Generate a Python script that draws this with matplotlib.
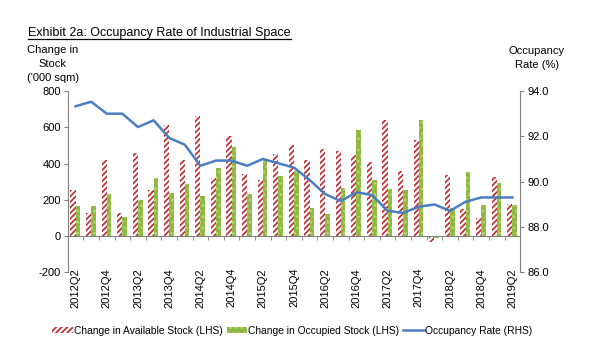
import matplotlib
matplotlib.use("Agg")
import matplotlib.pyplot as plt
from matplotlib.lines import Line2D
from matplotlib.patches import Patch
import numpy as np

plt.rcParams['font.family'] = ['Liberation Sans', 'DejaVu Sans']
plt.rcParams['hatch.linewidth'] = 1.2
plt.rcParams['axes.unicode_minus'] = False

quarters = ['2012Q2', '2012Q3', '2012Q4', '2013Q1', '2013Q2', '2013Q3', '2013Q4', '2014Q1',
            '2014Q2', '2014Q3', '2014Q4', '2015Q1', '2015Q2', '2015Q3', '2015Q4', '2016Q1',
            '2016Q2', '2016Q3', '2016Q4', '2017Q1', '2017Q2', '2017Q3', '2017Q4', '2018Q1',
            '2018Q2', '2018Q3', '2018Q4', '2019Q1', '2019Q2']
available = [256, 129, 418, 129, 458, 256, 611, 421, 660, 322, 550, 344, 307, 451, 504,
             418, 482, 471, 445, 408, 638, 359, 528, -33, 335, 147, 99, 326, 178]
occupied = [166, 166, 230, 105, 200, 320, 237, 285, 221, 373, 491, 230, 421, 333, 357,
            153, 120, 267, 585, 309, 261, 252, 642, -10, 156, 353, 169, 293, 169]
occ_rate = [93.33, 93.53, 93.0, 93.0, 92.41, 92.71, 91.93, 91.63, 90.70, 90.93, 90.93,
            90.70, 91.0, 90.81, 90.62, 90.07, 89.45, 89.14, 89.53, 89.41, 88.71, 88.62,
            88.89, 88.99, 88.71, 89.11, 89.30, 89.30, 89.30]

red = '#C0272D'
green = '#8DB940'
blue = '#4A7EC2'
grey = '#808080'

fig = plt.figure(figsize=(6, 3.6), dpi=100)
ax = fig.add_axes([0.113, 0.244, 0.754, 0.503])
ax2 = ax.twinx()

x = np.arange(len(quarters))
ax.bar(x - 0.165, available, width=0.33, facecolor='white', edgecolor=red,
       hatch='//////', linewidth=0)
ax.bar(x + 0.15, occupied, width=0.3, facecolor=green, edgecolor='#B4D46E',
       hatch='...', linewidth=0)
ax2.plot(x, occ_rate, color=blue, lw=1.8)

ax.set_xlim(-0.5, len(quarters) - 0.5)
ax.set_ylim(-200, 800)
ax.set_yticks(range(-200, 801, 200))
ax2.set_ylim(86, 94)
ax2.set_yticks(np.arange(86, 94.1, 2))
ax2.set_yticklabels(['%.1f' % v for v in np.arange(86, 94.1, 2)])

for a in (ax, ax2):
    a.spines['top'].set_visible(False)
    a.spines['left'].set_color(grey)
    a.spines['right'].set_color(grey)
ax.spines['bottom'].set_position(('data', 0))
ax.spines['bottom'].set_color(grey)
ax2.spines['bottom'].set_visible(False)
ax.spines['right'].set_visible(False)
ax2.spines['left'].set_visible(False)

ax.set_xticks(x[::2])
ax.set_xticklabels(quarters[::2], rotation=90, va='top', fontsize=8)
ax.set_xticks(np.arange(-0.5, len(quarters), 1), minor=True)
ax.tick_params(axis='x', which='major', length=0, pad=23)
ax.tick_params(axis='x', which='minor', length=3, color=grey)
ax.tick_params(axis='y', length=3, color=grey, labelsize=8, pad=2)
ax2.tick_params(axis='y', length=3, color=grey, labelsize=8, pad=2)

fig.text(0.088, 0.822, "Change in\nStock\n('000 sqm)", ha='center', va='center',
         fontsize=8, linespacing=1.45)
fig.text(0.895, 0.839, "Occupancy\nRate (%)", ha='center', va='center',
         fontsize=8, linespacing=1.45)

title = fig.text(0.047, 0.907, "Exhibit 2a: Occupancy Rate of Industrial Space",
                 ha='left', va='center', fontsize=9)
fig.canvas.draw()
bb = title.get_window_extent().transformed(fig.transFigure.inverted())
fig.add_artist(Line2D([bb.x0, bb.x1], [bb.y0 + 0.002, bb.y0 + 0.002],
                      color='black', lw=0.9, transform=fig.transFigure))

handles = [Patch(facecolor='white', edgecolor=red, hatch='//////', linewidth=0),
           Patch(facecolor=green, edgecolor='#B4D46E', hatch='...', linewidth=0),
           Line2D([], [], color=blue, lw=1.8)]
labels = ['Change in Available Stock (LHS)', 'Change in Occupied Stock (LHS)',
          'Occupancy Rate (RHS)']
fig.legend(handles, labels, loc='center', bbox_to_anchor=(0.487, 0.081), ncol=3,
           frameon=False, fontsize=7.4, handlelength=2.0, handleheight=0.6,
           handletextpad=0.1, columnspacing=0.4)

fig.savefig('out.png', dpi=100)
